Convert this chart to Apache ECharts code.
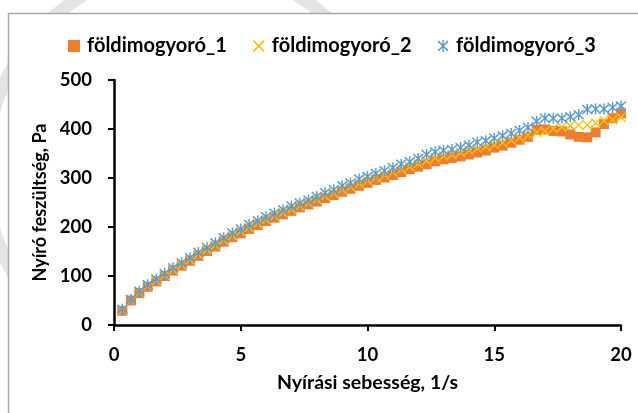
<!DOCTYPE html>
<html>
<head>
<meta charset="utf-8">
<script src="https://cdn.jsdelivr.net/npm/echarts@6/dist/echarts.min.js"></script>
<style>html,body{margin:0;padding:0;background:#fff}#c{width:638px;height:413px}</style>
</head>
<body>
<div id="c"></div>
<script>
// shear rate values, 1/s
const shearRate = [0.33,0.67,1.00,1.33,1.67,2.00,2.33,2.67,3.00,3.33,3.67,4.00,4.33,4.67,5.00,5.33,5.67,6.00,6.33,6.67,7.00,7.33,7.67,8.00,8.33,8.67,9.00,9.33,9.67,10.00,10.33,10.67,11.00,11.33,11.67,12.00,12.33,12.67,13.00,13.33,13.67,14.00,14.33,14.67,15.00,15.33,15.67,16.00,16.33,16.67,17.00,17.33,17.67,18.00,18.33,18.67,19.00,19.33,19.67,20.00];
const stress1 = [29,50,65,78,89,100,111,121,131,141,151,160,170,179,187,196,204,212,219,226,233,240,246,252,259,265,272,278,284,290,296,301,306,312,318,323,328,334,338,341,344,348,352,356,362,366,372,378,384,398,399,396,395,389,384,383,393,410,422,432];
const stress2 = [30,51,67,80,91,102,113,123,133,144,154,163,173,182,191,199,207,215,222,229,236,243,249,256,263,269,276,282,289,295,301,306,312,318,323,329,335,341,345,348,352,356,360,364,368,372,377,382,387,393,396,401,404,407,408,408,412,417,419,424];
const stress3 = [32,52,69,82,94,105,117,127,137,148,158,168,178,188,196,205,213,221,228,235,243,249,255,262,270,276,284,290,298,303,309,315,321,328,333,340,348,353,356,358,362,367,373,376,381,386,391,397,403,416,422,422,422,425,429,440,441,441,444,447];
const seriesNames = ['földimogyoró_1','földimogyoró_2','földimogyoró_3'];
const xTitle = 'Nyírási sebesség, 1/s';
const yTitle = 'Nyíró feszültség, Pa';

const pair = (ys) => shearRate.map((x, i) => [x, ys[i]]);
const FONT = 'Lato';
const crossPath = 'path://M0,1 L1,0 L5,4 L9,0 L10,1 L6,5 L10,9 L9,10 L5,6 L1,10 L0,9 L4,5 Z';
const starPath = 'path://M0,1 L1,0 L5,4 L9,0 L10,1 L6,5 L10,9 L9,10 L5,6 L1,10 L0,9 L4,5 Z M4.35,-0.5 L5.65,-0.5 L5.65,10.5 L4.35,10.5 Z';

const chart = echarts.init(document.getElementById('c'), null, {renderer: 'canvas'});
chart.setOption({
  animation: false,
  backgroundColor: '#fff',
  graphic: [
    {type: 'circle', silent: true, z: -30,
     shape: {cx: 190, cy: 170, r: 205},
     style: {fill: 'none', stroke: '#e4e4e4', lineWidth: 13}},
    {type: 'rect', silent: true, z: -20,
     shape: {x: 8.5, y: 13.5, width: 700, height: 500},
     style: {fill: '#fff', stroke: '#a8a8a8', lineWidth: 1.5}}
  ],
  legend: {
    left: 63, top: 31,
    itemWidth: 12, itemHeight: 12, itemGap: 26,
    textStyle: {fontFamily: FONT, fontWeight: 'bold', fontSize: 20, color: '#000', padding: [0,0,0,2]},
    data: seriesNames
  },
  grid: {left: 114, right: 17, top: 80, bottom: 88},
  xAxis: {
    type: 'value', min: 0, max: 20, interval: 5,
    name: xTitle, nameLocation: 'middle', nameGap: 48,
    nameTextStyle: {fontFamily: FONT, fontWeight: 'bold', fontSize: 19.5, color: '#000'},
    axisLine: {show: true, lineStyle: {color: '#000', width: 2.5}},
    axisTick: {show: true, length: 6, lineStyle: {color: '#000', width: 2}},
    axisLabel: {fontFamily: FONT, fontWeight: 'bold', fontSize: 18.5, color: '#000', margin: 21},
    splitLine: {show: false}
  },
  yAxis: {
    type: 'value', min: 0, max: 500, interval: 100,
    name: yTitle, nameLocation: 'middle', nameGap: 60, nameRotate: 90,
    nameTextStyle: {fontFamily: FONT, fontWeight: 'bold', fontSize: 18, color: '#000'},
    axisLine: {show: true, lineStyle: {color: '#000', width: 2.5}},
    axisTick: {show: true, length: 6, lineStyle: {color: '#000', width: 2}},
    axisLabel: {fontFamily: FONT, fontWeight: 'bold', fontSize: 18.5, color: '#000', margin: 22},
    splitLine: {show: false}
  },
  series: [
    {name: seriesNames[0], type: 'scatter', data: pair(stress1), symbol: 'rect', symbolSize: 10,
     itemStyle: {color: '#ED7D31', opacity: 1}},
    {name: seriesNames[1], type: 'scatter', data: pair(stress2), symbol: crossPath, symbolSize: 10,
     itemStyle: {color: '#FFC000', opacity: 1}},
    {name: seriesNames[2], type: 'scatter', data: pair(stress3), symbol: starPath, symbolSize: 11,
     itemStyle: {color: '#5B9BD5', opacity: 1}}
  ]
});
</script>
</body>
</html>
